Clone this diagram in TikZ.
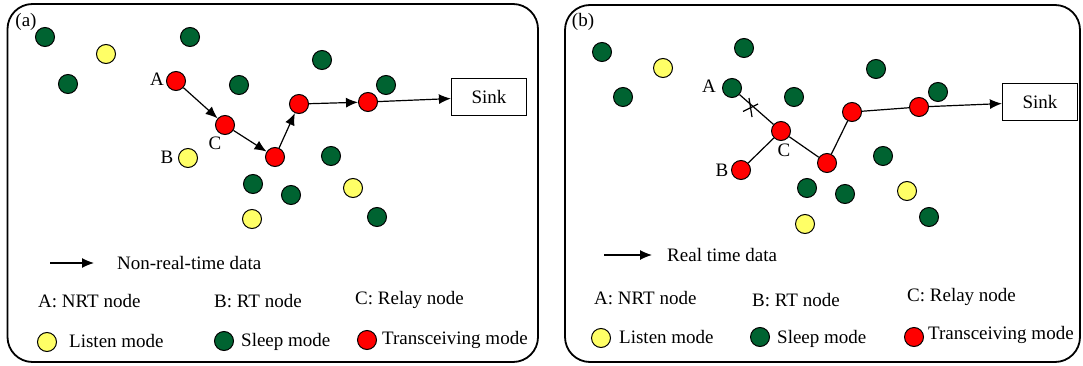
\documentclass[tikz,border=0pt]{standalone}
\usepackage{fontspec}
\setmainfont{Liberation Serif}
\usetikzlibrary{arrows.meta}
\definecolor{sleepgreen}{RGB}{0,99,49}
\definecolor{listenyellow}{RGB}{255,255,102}
\definecolor{txred}{RGB}{255,0,0}
\begin{document}
\begin{tikzpicture}[x=1pt,y=-1pt,
  font=\fontsize{19}{22}\selectfont,
  panel/.style={draw,line width=1.8pt,rounded corners=25pt},
  mote/.style={circle,draw,line width=1pt,minimum size=19pt,inner sep=0pt},
  sleepnode/.style={mote,fill=sleepgreen},
  listennode/.style={mote,fill=listenyellow},
  txnode/.style={mote,fill=txred},
  sinkbox/.style={draw,line width=1.2pt,minimum width=75pt,minimum height=37pt,inner sep=0pt},
  txt/.style={inner sep=0pt,anchor=west},
  lbl/.style={inner sep=0pt},
  flow/.style={line width=1.2pt,-{Latex[length=12pt,width=10pt]}},
  link/.style={line width=1.2pt},
  crossmark/.style={line width=1.2pt}]
\useasboundingbox (0,0) rectangle (1083,366);

% ---------------- panel (a): non-real-time data ----------------
\draw[panel] (7.5,4) rectangle (538,362);
\node[lbl] (ta) at (26,22) {(a)};

\node[sleepnode] (a1) at (45,37) {};
\node[listennode] (a2) at (106,54) {};
\node[sleepnode] (a3) at (68,84) {};
\node[sleepnode] (a4) at (190,37) {};
\node[txnode] (aA) at (176,81) {};
\node[sleepnode] (a5) at (239,85) {};
\node[sleepnode] (a6) at (322,60) {};
\node[sleepnode] (a7) at (386,85) {};
\node[txnode] (aC) at (225,125) {};
\node[txnode] (aR1) at (275,157) {};
\node[txnode] (aR2) at (299,104) {};
\node[txnode] (aR3) at (368,102) {};
\node[sinkbox] (aS) at (489,97) {Sink};
\node[listennode] (aB) at (188,158) {};
\node[sleepnode] (a8) at (331,156) {};
\node[sleepnode] (a9) at (253,184) {};
\node[sleepnode] (a10) at (291,195) {};
\node[listennode] (a11) at (353,188) {};
\node[listennode] (a12) at (252,219) {};
\node[sleepnode] (a13) at (377,217) {};

\node[lbl] (laA) at (157,79) {A};
\node[lbl] (laC) at (215,143) {C};
\node[lbl] (laB) at (167,157) {B};

\draw[flow] (aA) -- (aC);
\draw[flow] (aC) -- (aR1);
\draw[flow] (aR1) -- (aR2);
\draw[flow] (aR2) -- (aR3);
\draw[flow] (aR3) -- (aS);

% legend (a)
\coordinate (la0) at (50,263);
\coordinate (la1) at (94,263);
\draw[flow] (la0) -- (la1);
\node[txt] (lat) at (117,263) {Non-real-time data};
\node[txt] (laa) at (38,301) {A: NRT node};
\node[txt] (lab) at (214,301) {B: RT node};
\node[txt] (lac) at (355,300) {C: Relay node};
\node[listennode] (lay) at (47,342) {};
\node[txt] (layt) at (69,341) {Listen mode};
\node[sleepnode] (lag) at (224,341) {};
\node[txt] (lagt) at (241,342) {Sleep mode};
\node[txnode] (lar) at (367,340) {};
\node[txt] (lart) at (382,340) {Transceiving mode};

% ---------------- panel (b): real-time data ----------------
\draw[panel] (565,5) rectangle (1080,362);
\node[lbl] (tb) at (583,22) {(b)};

\node[sleepnode] (b1) at (602,52) {};
\node[listennode] (b2) at (663,68) {};
\node[sleepnode] (b3) at (623,97) {};
\node[sleepnode] (b4) at (744,48) {};
\node[sleepnode] (bA) at (732,88) {};
\node[sleepnode] (b5) at (794,97) {};
\node[sleepnode] (b6) at (876,69) {};
\node[sleepnode] (b7) at (938,92) {};
\node[txnode] (bC) at (781,131) {};
\node[txnode] (bR1) at (827,163) {};
\node[txnode] (bR2) at (852,112) {};
\node[txnode] (bR3) at (919,107) {};
\node[sinkbox] (bS) at (1040,102) {Sink};
\node[txnode] (bB) at (741,170) {};
\node[sleepnode] (b8) at (883,156) {};
\node[sleepnode] (b9) at (807,188) {};
\node[sleepnode] (b10) at (845,194) {};
\node[listennode] (b11) at (907,191) {};
\node[listennode] (b12) at (805,224) {};
\node[sleepnode] (b13) at (929,217) {};

\node[lbl] (lbA) at (709,86) {A};
\node[lbl] (lbC) at (784,150) {C};
\node[lbl] (lbB) at (722,170) {B};

\draw[link] (bA) -- (bC);
\draw[link] (bB) -- (bC);
\draw[link] (bC) -- (bR1);
\draw[link] (bR1) -- (bR2);
\draw[link] (bR2) -- (bR3);
\draw[flow] (bR3) -- (bS);

% broken link marker between A and C
\coordinate (bx) at (751,108);
\draw[crossmark] ([shift={(-8,3.5)}]bx) -- ([shift={(7,-4)}]bx);
\draw[crossmark] ([shift={(-2,-10)}]bx) -- ([shift={(1,9)}]bx);

% legend (b)
\coordinate (lb0) at (604,255);
\coordinate (lb1) at (652,255);
\draw[flow] (lb0) -- (lb1);
\node[txt] (lbt) at (667,255) {Real time data};
\node[txt] (lba) at (594,298) {A: NRT node};
\node[txt] (lbb) at (752,300) {B: RT node};
\node[txt] (lbc) at (907,297) {C: Relay node};
\node[listennode] (lby) at (601,338) {};
\node[txt] (lbyt) at (619,337) {Listen mode};
\node[sleepnode] (lbg) at (760,337) {};
\node[txt] (lbgt) at (777,339) {Sleep mode};
\node[txnode] (lbr) at (914,337) {};
\node[txt] (lbrt) at (928,335) {Transceiving mode};
\end{tikzpicture}
\end{document}
